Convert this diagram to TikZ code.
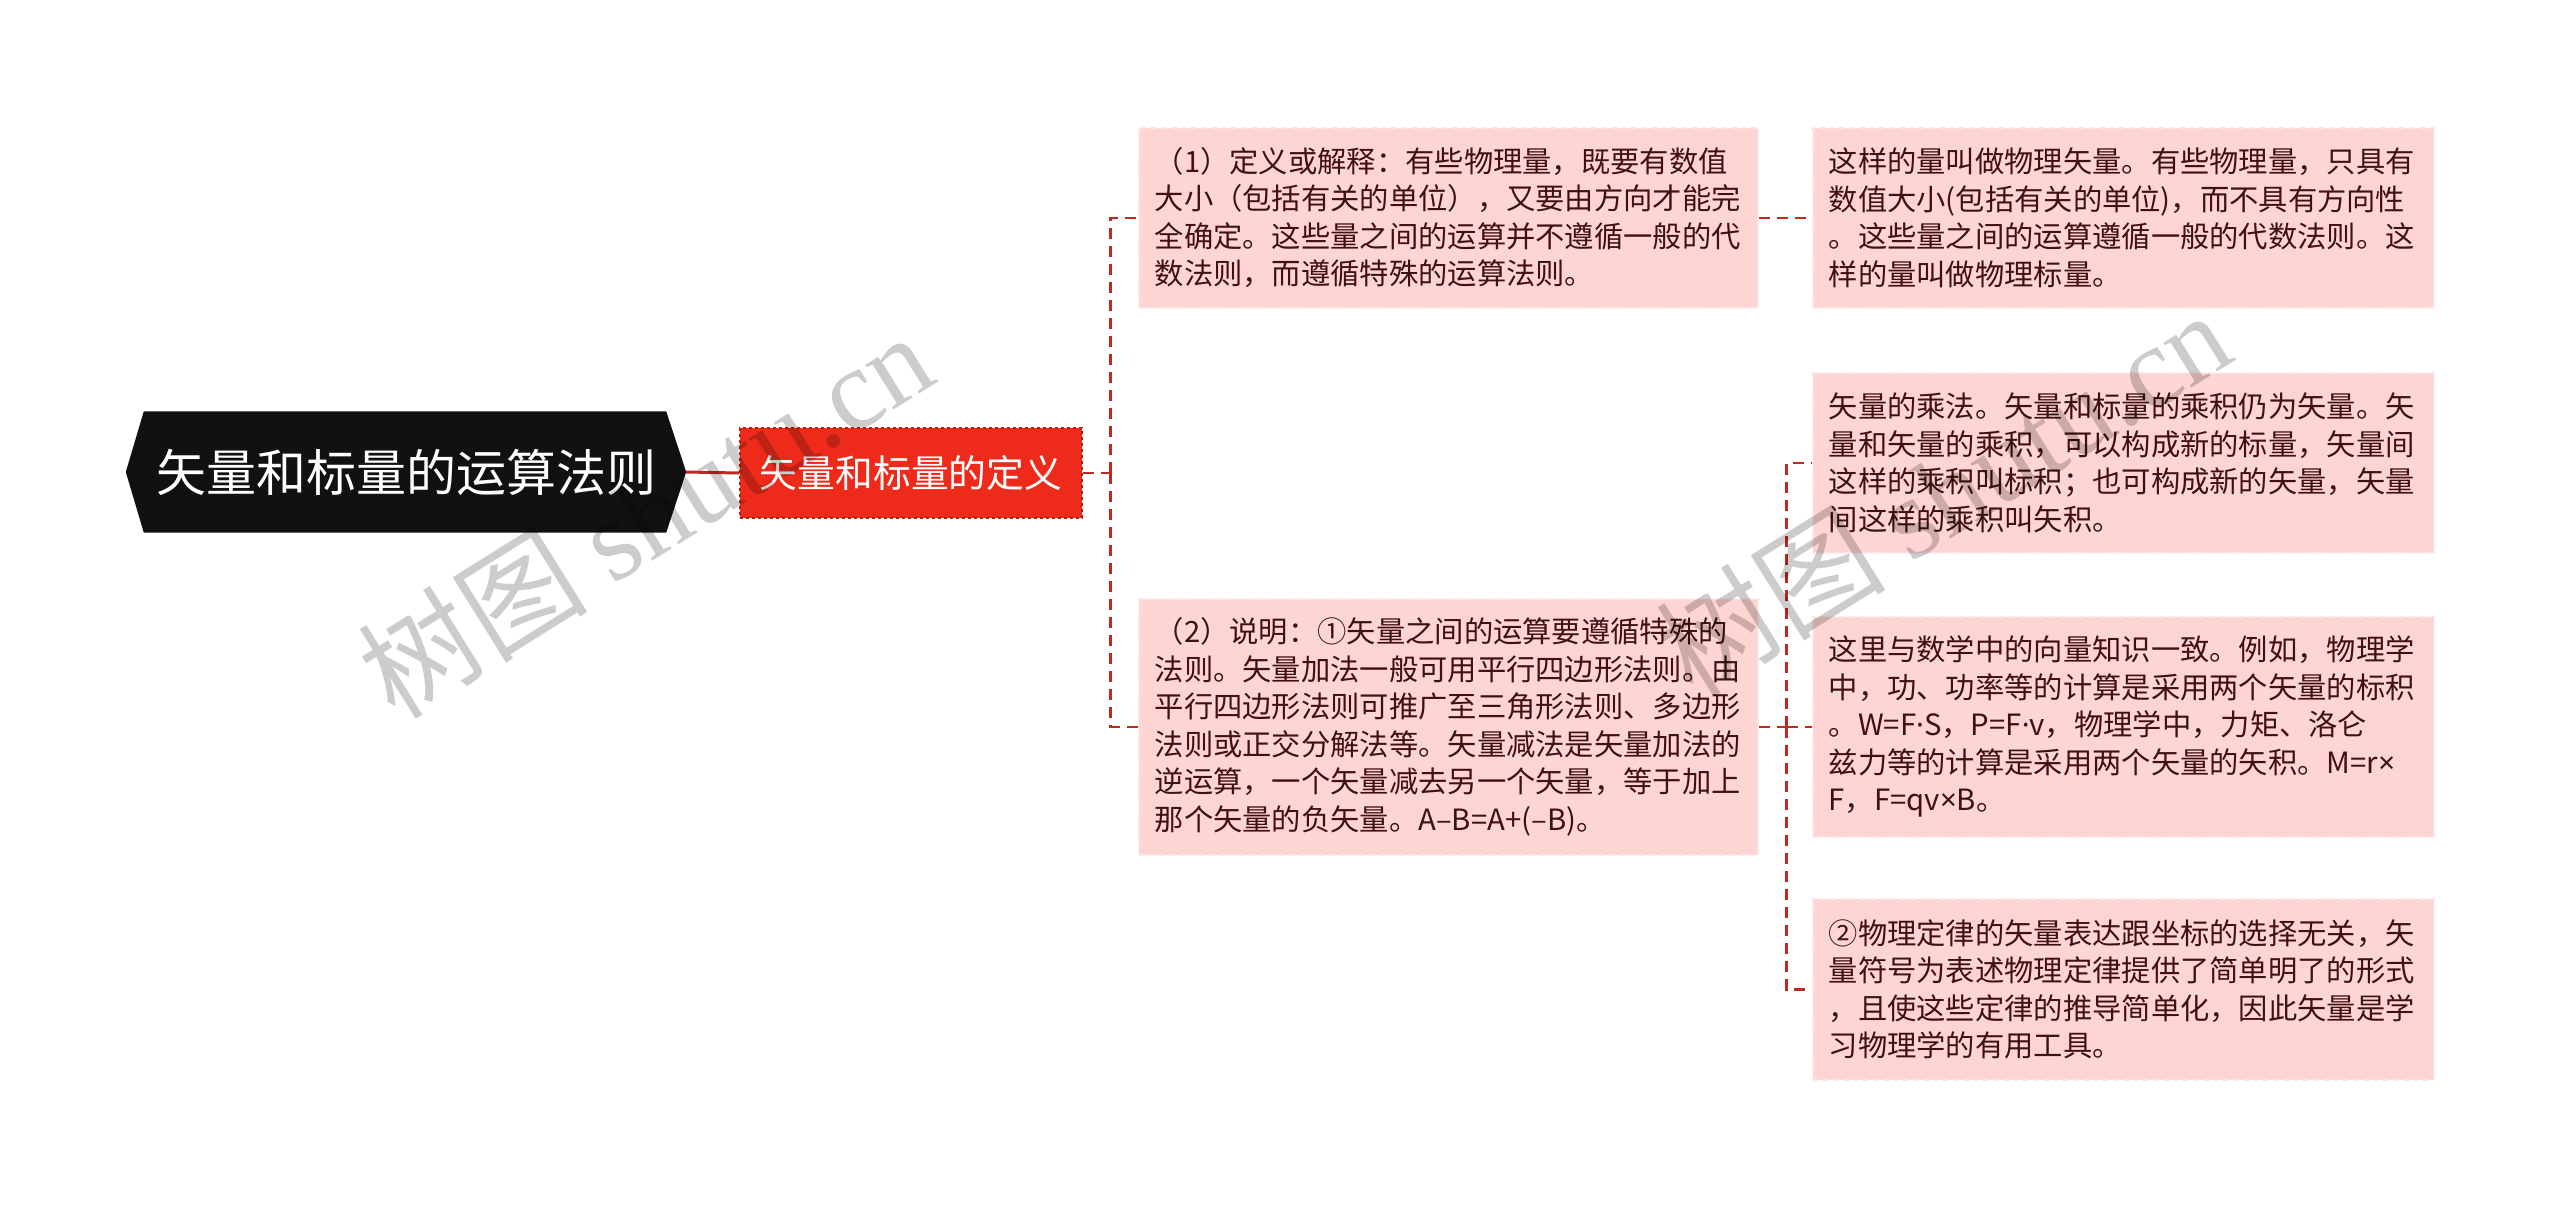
\documentclass[tikz,border=0pt]{standalone}
\usepackage{fontspec}
\newfontfamily\cjk{Noto Sans CJK SC}
\newfontfamily\lat{Noto Sans}
\newfontfamily\wmlatin{Liberation Serif}
\usetikzlibrary{backgrounds}
\definecolor{rootbg}{HTML}{111111}
\definecolor{redbg}{HTML}{EE2A1B}
\definecolor{redbd}{HTML}{B81E14}
\definecolor{pinkbg}{HTML}{FFD5D3}
\definecolor{pinkbd}{HTML}{FBE7E6}
\definecolor{boxtext}{HTML}{3D1210}
\definecolor{connred}{HTML}{BE2A22}
\tikzset{
  leafbox/.style={anchor=north west, fill=pinkbg, draw=pinkbd, dashed, dash pattern=on 6pt off 4pt,
    line width=1.5pt, text=boxtext, align=left, inner xsep=16pt, inner ysep=0pt,
    font=\cjk\fontsize{29.3}{37.5}\selectfont},
  conn/.style={draw=connred, line width=2.5pt, dash pattern=on 11pt off 7pt},
  rootline/.style={draw=connred, line width=3pt},
  wmark/.style={text=black, opacity=0.2, rotate=32, font=\fontsize{115}{120}\selectfont}
}
\begin{document}
\begin{tikzpicture}[x=1pt,y=-1pt]
\useasboundingbox (0,0) rectangle (2560,1208);

% root
\node[minimum width=560pt, minimum height=121pt, inner sep=0pt, text=white,
  font=\cjk\fontsize{50}{56}\selectfont] (root) at (406,472) {矢量和标量的运算法则};
\begin{scope}[on background layer]
\fill[white] (0,0) rectangle (2560,1208);
\fill[rootbg] (root.west) -- ([xshift=18pt]root.north west) -- ([xshift=-20pt]root.north east)
  -- (root.east) -- ([xshift=-20pt]root.south east) -- ([xshift=18pt]root.south west) -- cycle;
\end{scope}

% level 1
\node[fill=redbg, draw=redbd, dashed, line width=1.2pt, minimum width=342pt, minimum height=90pt,
  inner sep=0pt, text=white, font=\cjk\fontsize{37.8}{42}\selectfont] (red) at (911,473) {矢量和标量的定义};

% level 2
\node[leafbox, text width=587pt, minimum height=180pt] (A1) at (1138,127)
{（1）定义或解释：有些物理量，既要有数值\\
大小（包括有关的单位），又要由方向才能完\\
全确定。这些量之间的运算并不遵循一般的代\\
数法则，而遵循特殊的运算法则。};

\node[leafbox, text width=587pt, minimum height=256pt] (A2) at (1138,598)
{（2）说明：①矢量之间的运算要遵循特殊的\\
法则。矢量加法一般可用平行四边形法则。由\\
平行四边形法则可推广至三角形法则、多边形\\
法则或正交分解法等。矢量减法是矢量加法的\\
逆运算，一个矢量减去另一个矢量，等于加上\\
那个矢量的负矢量。A–B=A+(–B)。};

% level 3
\node[leafbox, text width=589pt, minimum height=180pt] (B1) at (1812,127)
{这样的量叫做物理矢量。有些物理量，只具有\\
数值大小(包括有关的单位)，而不具有方向性\\
。这些量之间的运算遵循一般的代数法则。这\\
样的量叫做物理标量。};

\node[leafbox, text width=589pt, minimum height=180pt] (B2) at (1812,372)
{矢量的乘法。矢量和标量的乘积仍为矢量。矢\\
量和矢量的乘积，可以构成新的标量，矢量间\\
这样的乘积叫标积；也可构成新的矢量，矢量\\
间这样的乘积叫矢积。};

\node[leafbox, text width=589pt, minimum height=220pt] (B3) at (1812,616)
{这里与数学中的向量知识一致。例如，物理学\\
中，功、功率等的计算是采用两个矢量的标积\\
。W=F{\lat ·}S，P=F{\lat ·}v，物理学中，力矩、洛仑\\
兹力等的计算是采用两个矢量的矢积。M=r{\lat ×}\\
F，F=qv{\lat ×}B。};

\node[leafbox, text width=589pt, minimum height=181pt] (B4) at (1812,898)
{②物理定律的矢量表达跟坐标的选择无关，矢\\
量符号为表述物理定律提供了简单明了的形式\\
，且使这些定律的推导简单化，因此矢量是学\\
习物理学的有用工具。};

% connectors
\draw[rootline] (root.east) -- (red.west);
\coordinate (j1) at ([xshift=28pt]red.east);
\draw[conn] (red.east) -- (j1);
\draw[conn] (j1) |- (A1.west);
\draw[conn] (j1) |- (A2.west);
\draw[conn] (A1.east) -- (B1.west);
\coordinate (j2) at ([xshift=28pt]A2.east);
\draw[conn] (A2.east) -- (j2);
\draw[conn] (j2) |- (B2.west);
\draw[conn] (j2) |- (B3.west);
\draw[conn] (j2) |- (B4.west);

% watermarks
\node[wmark] (wm1) at (645,514) {\cjk 树图 \wmlatin shutu.cn};
\node[wmark] (wm2) at (1943,492) {\cjk 树图 \wmlatin shutu.cn};
\end{tikzpicture}
\end{document}
